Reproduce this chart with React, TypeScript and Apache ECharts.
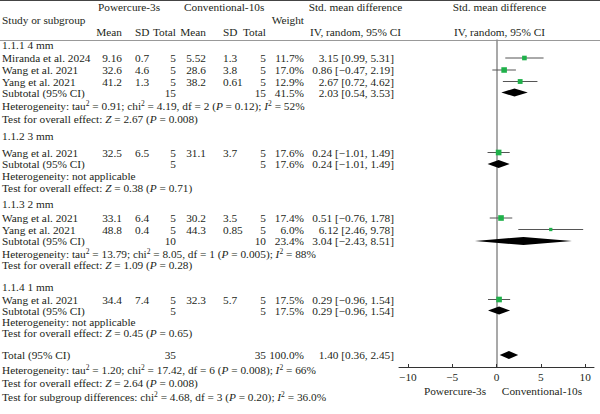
import React, { useEffect, useRef } from "react";
import * as echarts from "echarts";

// ---------- data ----------
const groupLabels = ["1.1.1 4 mm", "1.1.2 3 mm", "1.1.3 2 mm", "1.1.4 1 mm"];
const studyNames = ["Miranda et al. 2024", "Wang et al. 2021", "Yang et al. 2021", "Wang et al. 2021", "Wang et al. 2021", "Yang et al. 2021", "Wang et al. 2021"];
const pcMean = [9.16, 32.6, 41.2, 32.5, 33.1, 48.8, 34.4];
const pcSD = [0.7, 4.6, 1.3, 6.5, 6.4, 0.4, 7.4];
const pcN = [5, 5, 5, 5, 5, 5, 5];
const cvMean = [5.52, 28.6, 38.2, 31.1, 30.2, 44.3, 32.3];
const cvSD = [1.3, 3.8, 0.61, 3.7, 3.5, 0.85, 5.7];
const cvN = [5, 5, 5, 5, 5, 5, 5];
const weights = [11.7, 17.0, 12.9, 17.6, 17.4, 6.0, 17.5];
const smd = [3.15, 0.86, 2.67, 0.24, 0.51, 6.12, 0.29];
const ciLo = [0.99, -0.47, 0.72, -1.01, -0.76, 2.46, -0.96];
const ciHi = [5.31, 2.19, 4.62, 1.49, 1.78, 9.78, 1.54];

const subN1 = [15, 5, 10, 5];
const subN2 = [15, 5, 10, 5];
const subWeight = [41.5, 17.6, 23.4, 17.5];
const subSmd = [2.03, 0.24, 3.04, 0.29];
const subLo = [0.54, -1.01, -2.43, -0.96];
const subHi = [3.53, 1.49, 8.51, 1.54];
const hetTau2 = [0.91, null, 13.79, null];
const hetChi2 = [4.19, null, 8.05, null];
const hetDf = [2, null, 1, null];
const hetP = ["0.12", null, "0.005", null];
const hetI2 = ["52", null, "88", null];
const testZ = [2.67, 0.38, 1.09, 0.45];
const testP = ["0.008", "0.71", "0.28", "0.65"];

const totalN1 = 35;
const totalN2 = 35;
const totalWeight = 100.0;
const totalSmd = 1.4;
const totalLo = 0.36;
const totalHi = 2.45;
const totalTau2 = 1.2;
const totalChi2 = 17.42;
const totalDf = 6;
const totalHetP = "0.008";
const totalI2 = "66";
const totalZ = 2.64;
const totalP = "0.008";
const subgroupChi2 = 4.68;
const subgroupDf = 3;
const subgroupP = "0.20";
const subgroupI2 = "36.0";

const xTicks = [-10, -5, 0, 5, 10];

// ---------- layout (pixel rows) ----------
const studyY = [58, 70, 81.5, 152.5, 218, 229.5, 299.5];
const groupLabelY = [45, 136, 204, 287];
const subY = [92.5, 164, 241, 310.5];
const hetY = [106, 175.5, 253.5, 322];
const testY = [118.5, 187.5, 265, 333];
const totalY = 355;
const totalHetY = 370;
const totalTestY = 383;
const subgroupTestY = 396.5;

const FONT = "'Liberation Serif', 'DejaVu Serif', serif";
const FS = 11.3;
const INK = "#231f20";

const rich = {
  i: { fontFamily: FONT, fontSize: FS, fontStyle: "italic", fill: INK, color: INK },
  s: { fontFamily: FONT, fontSize: 7.5, fill: INK, color: INK, verticalAlign: "top", lineHeight: 7 },
};

function txt(x: number, y: number, text: string, align: string = "left", extra: any = {}) {
  return {
    type: "text",
    x,
    y,
    silent: true,
    style: {
      text,
      fill: INK,
      fontFamily: FONT,
      fontSize: FS,
      align,
      textAlign: align,
      verticalAlign: "middle",
      textVerticalAlign: "middle",
      lineHeight: 13,
      rich,
      ...extra,
    },
  };
}

const f2 = (v: number) => v.toFixed(2).replace("-", "\u2212");
const ciText = (m: number, l: number, h: number) => `${f2(m)} [${f2(l)}, ${f2(h)}]`;
const hetText = (t: number | null, c: number | null, d: number | null, p: string | null, i2: string | null) =>
  t == null
    ? "Heterogeneity: not applicable"
    : `Heterogeneity: tau{s|2} = ${t.toFixed(2)}; chi{s|2} = ${(c as number).toFixed(2)}, df = ${d} ({i|P} = ${p}); {i|I}{s|2} = ${i2}%`;
const testText = (z: number, p: string) => `Test for overall effect: {i|Z} = ${z.toFixed(2)} ({i|P} = ${p})`;

const COL = {
  name: 2,
  pcMeanR: 122,
  pcSDL: 135,
  pcNR: 176,
  cvMeanR: 206,
  cvSDL: 223,
  cvNR: 266,
  wR: 304,
  ciR: 394,
};

function buildGraphics() {
  const g: any[] = [];
  // rules
  g.push({ type: "line", silent: true, shape: { x1: 0, y1: 0.5, x2: 600, y2: 0.5 }, style: { stroke: "#444", lineWidth: 1.2 } });
  g.push({ type: "line", silent: true, shape: { x1: 0, y1: 40.5, x2: 600, y2: 40.5 }, style: { stroke: "#999", lineWidth: 1 } });
  // headers
  g.push(txt(98, 7, "Powercure-3s"));
  g.push(txt(184, 7, "Conventional-10s"));
  g.push(txt(2, 20, "Study or subgroup"));
  g.push(txt(COL.wR, 20, "Weight", "right"));
  g.push(txt(COL.pcMeanR, 32, "Mean", "right"));
  g.push(txt(COL.pcSDL, 32, "SD"));
  g.push(txt(COL.pcNR, 32, "Total", "right"));
  g.push(txt(COL.cvMeanR, 32, "Mean", "right"));
  g.push(txt(COL.cvSDL, 32, "SD"));
  g.push(txt(COL.cvNR, 32, "Total", "right"));
  g.push(txt(355.5, 7, "Std. mean difference", "center"));
  g.push(txt(355.5, 32, "IV, random, 95% CI", "center"));
  g.push(txt(499.5, 7, "Std. mean difference", "center"));
  g.push(txt(499.5, 32, "IV, random, 95% CI", "center"));

  // groups
  groupLabels.forEach((lab, gi) => {
    g.push(txt(COL.name, groupLabelY[gi], lab));
    g.push(txt(COL.name, subY[gi], "Subtotal (95% CI)"));
    g.push(txt(COL.pcNR, subY[gi], String(subN1[gi]), "right"));
    g.push(txt(COL.cvNR, subY[gi], String(subN2[gi]), "right"));
    g.push(txt(COL.wR, subY[gi], subWeight[gi].toFixed(1) + "%", "right"));
    g.push(txt(COL.ciR, subY[gi], ciText(subSmd[gi], subLo[gi], subHi[gi]), "right"));
    g.push(txt(COL.name, hetY[gi], hetText(hetTau2[gi], hetChi2[gi], hetDf[gi], hetP[gi], hetI2[gi])));
    g.push(txt(COL.name, testY[gi], testText(testZ[gi], testP[gi])));
  });

  // studies
  studyNames.forEach((nm, i) => {
    const y = studyY[i];
    g.push(txt(COL.name, y, nm));
    g.push(txt(COL.pcMeanR, y, String(pcMean[i]), "right"));
    g.push(txt(COL.pcSDL, y, String(pcSD[i])));
    g.push(txt(COL.pcNR, y, String(pcN[i]), "right"));
    g.push(txt(COL.cvMeanR, y, String(cvMean[i]), "right"));
    g.push(txt(COL.cvSDL, y, String(cvSD[i])));
    g.push(txt(COL.cvNR, y, String(cvN[i]), "right"));
    g.push(txt(COL.wR, y, weights[i].toFixed(1) + "%", "right"));
    g.push(txt(COL.ciR, y, ciText(smd[i], ciLo[i], ciHi[i]), "right"));
  });

  // total
  g.push(txt(COL.name, totalY, "Total (95% CI)"));
  g.push(txt(COL.pcNR, totalY, String(totalN1), "right"));
  g.push(txt(COL.cvNR, totalY, String(totalN2), "right"));
  g.push(txt(COL.wR, totalY, totalWeight.toFixed(1) + "%", "right"));
  g.push(txt(COL.ciR, totalY, ciText(totalSmd, totalLo, totalHi), "right"));
  g.push(txt(COL.name, totalHetY, hetText(totalTau2, totalChi2, totalDf, totalHetP, totalI2)));
  g.push(txt(COL.name, totalTestY, testText(totalZ, totalP)));
  g.push(
    txt(
      COL.name,
      subgroupTestY,
      `Test for subgroup differences: chi{s|2} = ${subgroupChi2.toFixed(2)}, df = ${subgroupDf} ({i|P} = ${subgroupP}); {i|I}{s|2} = ${subgroupI2}%`
    )
  );

  // axis side labels
  g.push(txt(455, 391, "Powercure-3s", "center"));
  g.push(txt(542, 391, "Conventional-10s", "center"));
  return g;
}

export default function App() {
  const ref = useRef<HTMLDivElement>(null);
  useEffect(() => {
    if (!ref.current) return;
    const chart = echarts.init(ref.current, null, { renderer: "svg" });

    const studyData = smd.map((m, i) => [m, studyY[i], ciLo[i], ciHi[i], weights[i]]);
    const diamondData = subSmd.map((m, i) => [m, subY[i], subLo[i], subHi[i]]);
    diamondData.push([totalSmd, totalY, totalLo, totalHi]);

    chart.setOption({
      animation: false,
      backgroundColor: "#ffffff",
      grid: { left: 399, width: 195, top: 40, height: 327 },
      xAxis: {
        type: "value",
        min: -11,
        max: 11,
        axisLine: { onZero: false, lineStyle: { color: "#333", width: 1 } },
        axisTick: { show: true, inside: true, length: 3, customValues: xTicks, lineStyle: { color: "#333" } },
        axisLabel: {
          customValues: xTicks,
          margin: 4,
          fontFamily: FONT,
          fontSize: FS,
          color: INK,
          formatter: (v: number) => String(v).replace("-", "\u2212"),
        },
        splitLine: { show: false },
      },
      yAxis: {
        type: "value",
        min: 40,
        max: 367,
        inverse: true,
        axisLine: { show: true, onZero: true, lineStyle: { color: "#8c8c8c", width: 1.5 } },
        axisTick: { show: false },
        axisLabel: { show: false },
        splitLine: { show: false },
      },
      series: [
        {
          type: "custom",
          silent: true,
          encode: { x: [0, 2, 3], y: 1 },
          data: studyData,
          renderItem: (params: any, api: any) => {
            const y = api.value(1);
            const p = api.coord([api.value(0), y]);
            const l = api.coord([api.value(2), y]);
            const h = api.coord([api.value(3), y]);
            const s = Math.sqrt(api.value(4)) * 1.35;
            return {
              type: "group",
              children: [
                { type: "line", shape: { x1: l[0], y1: p[1], x2: h[0], y2: p[1] }, style: { stroke: "#555", lineWidth: 1 } },
                { type: "rect", shape: { x: p[0] - s / 2, y: p[1] - s / 2, width: s, height: s }, style: { fill: "#1fb14a" } },
              ],
            };
          },
        },
        {
          type: "custom",
          silent: true,
          encode: { x: [0, 2, 3], y: 1 },
          data: diamondData,
          renderItem: (params: any, api: any) => {
            const y = api.value(1);
            const p = api.coord([api.value(0), y]);
            const l = api.coord([api.value(2), y]);
            const h = api.coord([api.value(3), y]);
            const hh = 4;
            return {
              type: "polygon",
              shape: { points: [[l[0], p[1]], [p[0], p[1] - hh], [h[0], p[1]], [p[0], p[1] + hh]] },
              style: { fill: "#000" },
            };
          },
        },
      ],
      graphic: buildGraphics(),
    });
    return () => chart.dispose();
  }, []);
  return <div ref={ref} style={{ position: "fixed", left: 0, top: 0, width: 600, height: 414, background: "#fff" }} />;
}
